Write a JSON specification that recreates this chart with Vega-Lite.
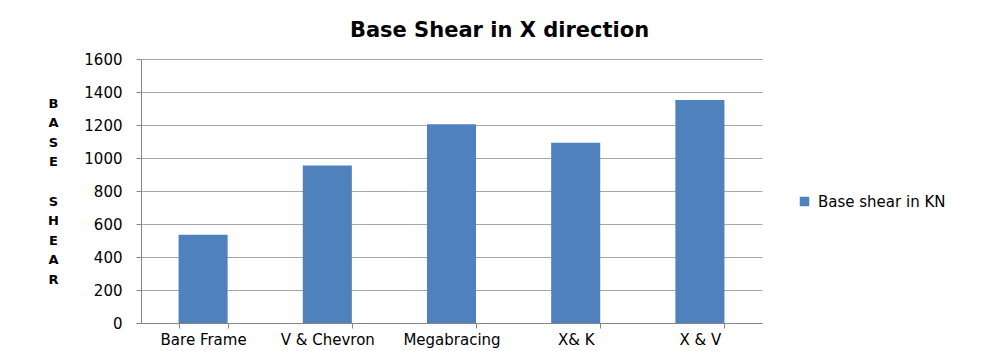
{
  "$schema": "https://vega.github.io/schema/vega-lite/v6.json",
  "autosize": {"type": "none"},
  "padding": {"left": 141, "top": 59, "right": 227, "bottom": 28},
  "width": 621,
  "height": 264,
  "background": "white",
  "title": {
    "text": "Base Shear in X direction",
    "font": "DejaVu Sans",
    "fontSize": 21,
    "fontWeight": "bold",
    "color": "#000000",
    "anchor": "middle",
    "dx": 48,
    "offset": 11
  },
  "data": {
    "values": [
      {"type": "Bare Frame", "shear": 535, "series": "Base shear in KN"},
      {"type": "V & Chevron", "shear": 955, "series": "Base shear in KN"},
      {"type": "Megabracing", "shear": 1204, "series": "Base shear in KN"},
      {"type": "X& K", "shear": 1093, "series": "Base shear in KN"},
      {"type": "X & V", "shear": 1352, "series": "Base shear in KN"}
    ]
  },
  "mark": {"type": "bar"},
  "encoding": {
    "x": {
      "field": "type",
      "type": "nominal",
      "sort": null,
      "scale": {"paddingInner": 0.605, "paddingOuter": 0.3025},
      "axis": {
        "title": null,
        "labelAngle": 0,
        "labelFont": "DejaVu Sans",
        "labelFontSize": 15,
        "labelColor": "#000000",
        "labelPadding": 4,
        "tickBand": "extent",
        "tickSize": 5,
        "tickColor": "#868686",
        "domainColor": "#868686",
        "grid": false
      }
    },
    "y": {
      "field": "shear",
      "type": "quantitative",
      "scale": {"domain": [0, 1600]},
      "axis": {
        "values": [0, 200, 400, 600, 800, 1000, 1200, 1400, 1600],
        "format": "d",
        "title": ["B", "A", "S", "E", "\u2800", "S", "H", "E", "A", "R"],
        "titleAngle": 0,
        "titleFont": "DejaVu Sans",
        "titleFontSize": 13,
        "titleFontWeight": "bold",
        "titleColor": "#000000",
        "titleLineHeight": 19.6,
        "titleAlign": "center",
        "titleBaseline": "top",
        "titleX": -88,
        "titleY": 38,
        "labelFont": "DejaVu Sans",
        "labelFontSize": 15,
        "labelColor": "#000000",
        "labelPadding": 14,
        "tickSize": 5,
        "tickColor": "#868686",
        "domainColor": "#868686",
        "gridColor": "#a6a6a6",
        "gridOpacity": 1
      }
    },
    "color": {
      "field": "series",
      "type": "nominal",
      "scale": {"range": ["#4F81BD"]},
      "legend": {
        "title": null,
        "orient": "none",
        "legendX": 656,
        "legendY": 135,
        "symbolType": "square",
        "symbolSize": 90,
        "labelFont": "DejaVu Sans",
        "labelFontSize": 15,
        "labelColor": "#000000",
        "labelOffset": 6
      }
    }
  },
  "config": {"view": {"stroke": null}}
}
